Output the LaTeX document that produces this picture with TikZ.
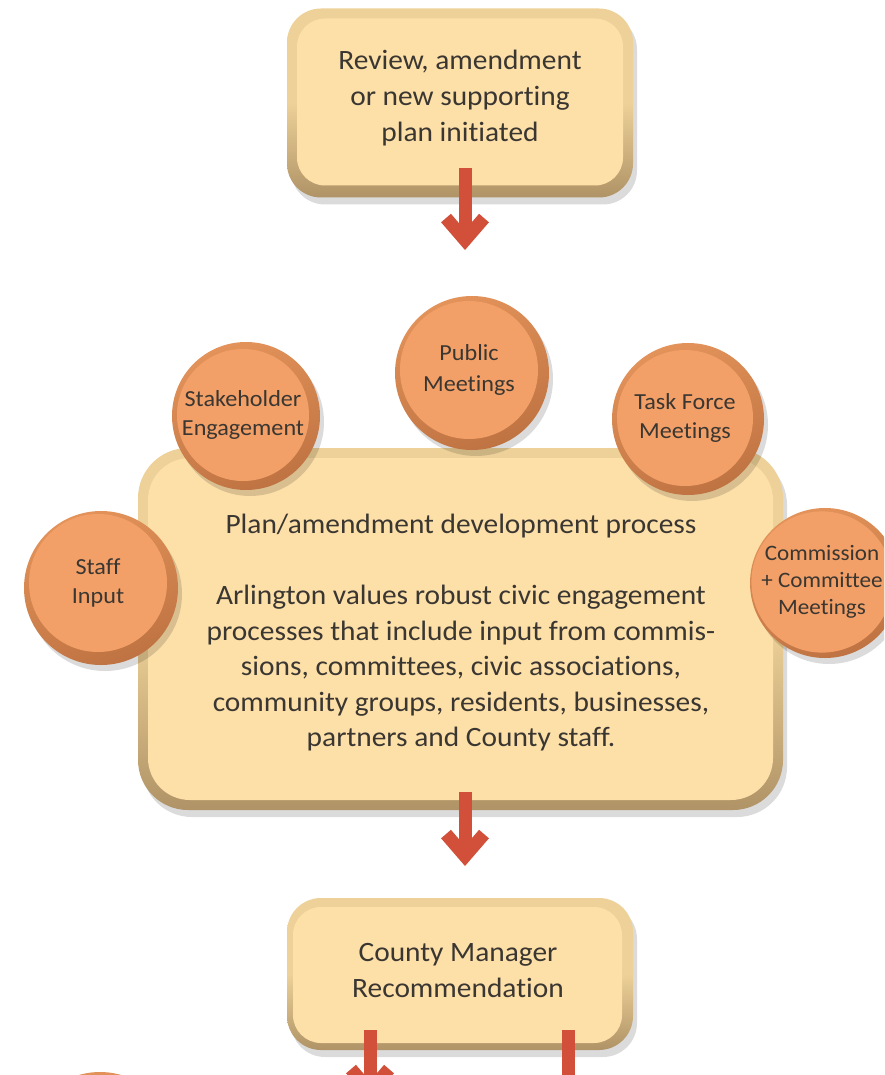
\documentclass[tikz,border=0pt]{standalone}
\usepackage{fontspec}
\setmainfont{Carlito}[Ligatures=NoCommon, FakeStretch=1.05]
\usetikzlibrary{arrows.meta,shadows}
\definecolor{face}{HTML}{FDDFA8}
\definecolor{rimlight}{HTML}{EDD198}
\definecolor{rimdark}{HTML}{B09366}
\definecolor{disk}{HTML}{F2A068}
\definecolor{ringlight}{HTML}{E3935A}
\definecolor{ringdark}{HTML}{BF7342}
\definecolor{arrowred}{HTML}{D24F3A}
\definecolor{ink}{HTML}{3A3631}
\tikzset{
  rimbox/.style={rectangle, draw=none, rounded corners=34pt, top color=rimlight, bottom color=rimdark, middle color=rimlight,
    drop shadow={shadow xshift=4pt, shadow yshift=-7pt, opacity=0.14, fill=black}},
  facebox/.style={rectangle, fill=face, rounded corners=28pt, inner sep=0pt},
  boxtext/.style={text=ink, align=center, inner sep=0pt, font=\fontsize{28}{36}\selectfont},
  ringdisc/.style={circle, draw=none, inner sep=0pt, top color=ringlight, bottom color=ringdark, shading angle=20,
    drop shadow={shadow xshift=4pt, shadow yshift=-6pt, opacity=0.14, fill=black}},
  innerdisc/.style={circle, fill=disk, inner sep=0pt, text=ink, align=center, font=\fontsize{23}{29}\selectfont},
  flowarrow/.style={draw=arrowred, line width=13pt, -{Straight Barb[length=22pt, width=38pt, line width=13pt]}},
  flowline/.style={draw=arrowred, line width=13pt}
}
\begin{document}
\begin{tikzpicture}[x=1pt,y=-1pt]
\useasboundingbox (0,0) rectangle (884,1075);
\clip (0,0) rectangle (884,1075);
\fill[white] (0,0) rectangle (884,1075);

% top box
\node[rimbox, minimum width=346pt, minimum height=189pt] (toprim) at (460,103) {};
\node[facebox, minimum width=326pt, minimum height=167pt] (top) at (460,102) {};
\node[boxtext] (toptext) at (460,98) {Review, amendment\\or new supporting\\plan initiated};

% middle box
\node[rimbox, rounded corners=50pt, minimum width=645pt, minimum height=362pt] (midrim) at (460.5,629) {};
\node[facebox, rounded corners=42pt, minimum width=625pt, minimum height=342pt] (mid) at (460.5,629) {};
\node[boxtext, font=\fontsize{28}{35.5}\selectfont] (midtext) at (461,633)
  {Plan/amendment development process\\[35.5pt]
   Arlington values robust civic engagement\\
   processes that include input from commis-\\
   sions, committees, civic associations,\\
   community groups, residents, businesses,\\
   partners and County staff.};

% bottom box
\node[rimbox, minimum width=346pt, minimum height=152pt] (botrim) at (460,974) {};
\node[facebox, minimum width=329pt, minimum height=136pt] (bot) at (457.5,975) {};
\node[boxtext] (bottext) at (458,971) {County Manager\\Recommendation};

% circles
\node[ringdisc, minimum size=154pt] (pubring) at (472,373) {};
\node[innerdisc, minimum size=138pt, font=\fontsize{23}{31}\selectfont] (pub) at (469,370) {Public\\Meetings};

\node[ringdisc, minimum size=148pt] (stkring) at (246,416) {};
\node[innerdisc, minimum size=132pt] (stk) at (243,415) {Stakeholder\\Engagement};

\node[ringdisc, minimum size=152pt] (tskring) at (688,419) {};
\node[innerdisc, minimum size=136pt] (tsk) at (685,418) {Task Force\\Meetings};

\node[ringdisc, minimum size=154pt] (stfring) at (101,588) {};
\node[innerdisc, minimum size=138pt] (stf) at (98,583) {Staff\\Input};

\node[ringdisc, minimum size=150pt] (comring) at (825,583) {};
\node[innerdisc, minimum size=134pt, font=\fontsize{22}{27}\selectfont] (com) at (822,582) {Commission\\+ Committee\\Meetings};

\node[ringdisc, minimum size=152pt] (lowring) at (100,1148) {};
\node[innerdisc, minimum size=136pt] (low) at (97,1145) {};

% arrows
\coordinate (a1s) at (465,168);
\coordinate (a1e) at (465,250);
\draw[flowarrow] (a1s) -- (a1e);
\coordinate (a2s) at (465,792);
\coordinate (a2e) at (465,866);
\draw[flowarrow] (a2s) -- (a2e);
\coordinate (a3s) at (370,1030);
\coordinate (a3e) at (370,1101);
\draw[flowarrow] (a3s) -- (a3e);
\coordinate (a4s) at (568,1030);
\coordinate (a4e) at (568,1090);
\draw[flowline] (a4s) -- (a4e);
\end{tikzpicture}
\end{document}
